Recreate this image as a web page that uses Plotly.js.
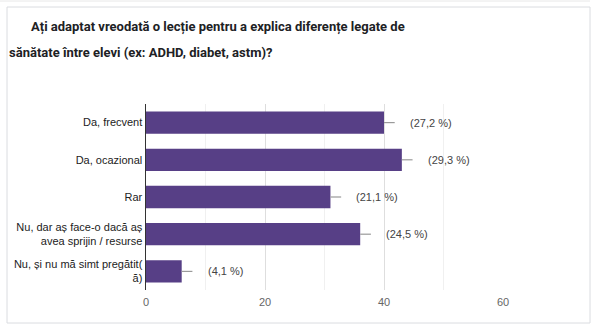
<!DOCTYPE html>
<html>
<head>
<meta charset="utf-8">
<script src="https://cdn.plot.ly/plotly-3.0.1.min.js"></script>
<style>
html,body{margin:0;padding:0;background:#fff;}
#chart{width:600px;height:336px;}
</style>
</head>
<body>
<div id="chart"></div>
<script>
const categories = [
  "Da, frecvent",
  "Da, ocazional",
  "Rar",
  "Nu, dar aș face-o dacă aș<br>avea sprijin / resurse",
  "Nu, și nu mă simt pregătit(<br>ă)"
];
const counts = [40, 43, 31, 36, 6];
const percentLabels = ["(27,2 %)", "(29,3 %)", "(21,1 %)", "(24,5 %)", "(4,1 %)"];
const errPlus = [1.8, 1.8, 1.8, 1.8, 1.8];
const errMinus = [0, 0, 0, 0, 0];
const xTicks = [0, 20, 40, 60];
const titleLine1 = "Ați adaptat vreodată o lecție pentru a explica diferențe legate de";
const titleLine2 = "sănătate între elevi (ex: ADHD, diabet, astm)?";

const trace = {
  type: "bar",
  orientation: "h",
  x: counts,
  y: categories,
  width: 0.6,
  marker: {color: "#573f86"},
  error_x: {
    type: "data",
    symmetric: false,
    array: errPlus,
    arrayminus: errMinus,
    color: "#9a9a9a",
    thickness: 1.2,
    width: 0
  },
  hoverinfo: "none"
};

const annotations = counts.map((v, i) => ({
  x: v, y: categories[i], xref: "x", yref: "y",
  text: percentLabels[i], showarrow: false,
  xanchor: "left", xshift: 24,
  font: {family: "Arial, Liberation Sans", size: 11, color: "#444"}
}));

const L = 146, R = 97, T = 104, B = 46;
const PW = 600 - L - R, PH = 336 - T - B;
function px(x){ return (x - L) / PW; }
function py(y){ return (336 - B - y) / PH; }

annotations.push({
  xref: "paper", yref: "paper", x: px(29), y: py(27),
  xanchor: "left", yanchor: "middle", showarrow: false,
  text: "<b>" + titleLine1 + "</b>",
  font: {family: "Roboto, Arial", size: 13, color: "#202124"}
});
annotations.push({
  xref: "paper", yref: "paper", x: px(7), y: py(52),
  xanchor: "left", yanchor: "middle", showarrow: false,
  text: "<b>" + titleLine2 + "</b>",
  font: {family: "Roboto, Arial", size: 13, color: "#202124"}
});

const layout = {
  width: 600, height: 336,
  margin: {l: L, r: R, t: T, b: B, pad: 0},
  paper_bgcolor: "#fff",
  plot_bgcolor: "#fff",
  showlegend: false,
  font: {family: "Arial, Liberation Sans", size: 11, color: "#222"},
  xaxis: {
    range: [0, 60],
    tickvals: xTicks,
    ticktext: xTicks.map(String),
    tickfont: {size: 11, color: "#666"},
    ticklabelstandoff: 4,
    showgrid: true,
    gridcolor: "#dedede",
    gridwidth: 1,
    minor: {dtick: 10, showgrid: true, gridcolor: "#f0f0f0", gridwidth: 1},
    zeroline: false,
    showline: false,
    ticks: "",
    fixedrange: true
  },
  yaxis: {
    autorange: "reversed",
    showline: true,
    linecolor: "#333",
    linewidth: 1.5,
    ticks: "",
    ticklabelstandoff: 0,
    tickfont: {size: 11, color: "#222"},
    showgrid: false,
    fixedrange: true
  },
  annotations: annotations,
  shapes: [
    {type: "rect", xref: "paper", yref: "paper",
     x0: px(7), x1: px(590), y0: py(323), y1: py(7),
     line: {color: "#dadce0", width: 1}, fillcolor: "rgba(0,0,0,0)", layer: "below"},
    {type: "line", xref: "paper", yref: "paper",
     x0: px(0), x1: px(590), y0: py(1), y1: py(1),
     line: {color: "#e8e8e8", width: 1}}
  ]
};

Plotly.newPlot("chart", [trace], layout, {displayModeBar: false, staticPlot: true});
</script>
</body>
</html>
